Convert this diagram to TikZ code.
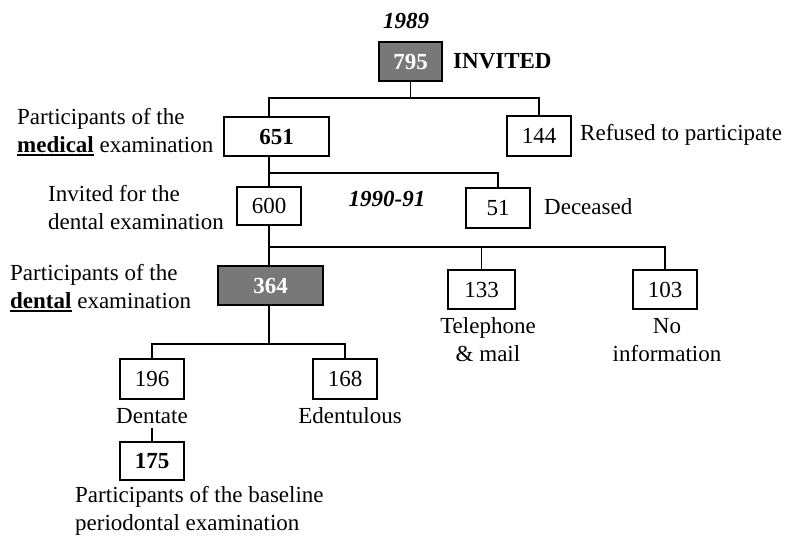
\documentclass[tikz,border=0pt]{standalone}
\usepackage{fontspec}
\setmainfont{Liberation Serif}
\definecolor{boxgray}{RGB}{120,120,120}
\newcommand\ulbf[1]{\setbox0\hbox{\textbf{#1}}\rlap{\rule[-3.5pt]{\wd0}{1.6pt}}\box0\relax}
\begin{document}
\begin{tikzpicture}[x=1pt,y=1pt,
  every node/.style={font=\fontsize{23}{28}\selectfont, inner sep=0pt},
  numbox/.style={draw, line width=1.3pt, minimum height=39pt, inner sep=0pt},
  graybox/.style={numbox, fill=boxgray, text=white, font=\fontsize{23}{28}\selectfont\bfseries},
  conn/.style={line width=1.3pt},
  lbl/.style={anchor=west, align=left}]
\useasboundingbox (0,0) rectangle (789,-536);
% boxes
\node[graybox, minimum width=63pt] (p795) at (410.5,-61.5) {795};
\node[numbox, minimum width=105pt, font=\fontsize{23}{28}\selectfont\bfseries] (p651) at (276.5,-136.5) {651};
\node[numbox, minimum width=64pt, minimum height=40pt] (p144) at (539,-136) {144};
\node[numbox, minimum width=64pt, minimum height=38pt] (p600) at (269,-206) {600};
\node[numbox, minimum width=64pt, minimum height=40pt] (p51) at (498,-208) {51};
\node[graybox, minimum width=105pt] (p364) at (270.5,-285.5) {364};
\node[numbox, minimum width=67pt] (p133) at (481.5,-289.5) {133};
\node[numbox, minimum width=64pt] (p103) at (665,-289.5) {103};
\node[numbox, minimum width=64pt, minimum height=40pt] (p196) at (152,-379) {196};
\node[numbox, minimum width=64pt, minimum height=40pt] (p168) at (345,-379) {168};
\node[numbox, minimum width=64pt, minimum height=38pt, font=\fontsize{23}{28}\selectfont\bfseries] (p175) at (152,-461) {175};
% labels
\node[font=\fontsize{23}{28}\selectfont\bfseries\itshape] (y1989) at (406,-21) {1989};
\node[lbl, font=\fontsize{23}{28}\selectfont\bfseries] (tinv) at (453,-61) {INVITED};
\node[lbl] (tref) at (580,-135) {Refused to participate};
\node[lbl] (tmed) at (17,-132) {Participants of the\\\ulbf{medical} examination};
\node[lbl] (tinvd) at (48,-208) {Invited for the\\dental examination};
\node[font=\fontsize{23}{28}\selectfont\bfseries\itshape] (y1990) at (387,-199) {1990-91};
\node[lbl] (tdec) at (544,-207) {Deceased};
\node[lbl] (tden) at (10,-288) {Participants of the\\\ulbf{dental} examination};
\node[align=center] (ttel) at (488,-340) {Telephone\\\& mail};
\node[align=center] (tno) at (667,-340) {No\\information};
\node (tdent) at (152,-416) {Dentate};
\node (tedent) at (350,-416) {Edentulous};
\node[lbl] (tbase) at (75,-511) {Participants of the baseline\\periodontal examination};
% bars
\coordinate (b1) at (0,-98);
\coordinate (b2) at (0,-173);
\coordinate (b3) at (0,-247);
\coordinate (b4) at (0,-344);
% connectors
\draw[conn] (p795.south) -- (p795.south |- b1);
\draw[conn] (p600.north |- p651.north) |- (b1 -| p144) -- (p144.north);
\draw[conn] (p600.north |- p651.south) -- (p600.north);
\draw[conn] (p600.north |- b2) -| (p51.north);
\draw[conn] (p600.south) -- (p600.south |- p364.north);
\draw[conn] (p600.south |- b3) -| (p103.north);
\draw[conn] (p133.north) -- (p133.north |- b3);
\draw[conn] (p600.south |- p364.south) -- (p600.south |- b4);
\draw[conn] (p196.north) |- (b4 -| p168) -- (p168.north);
\draw[conn] (tdent.south -| p175) ++(0,-4) -- (p175.north);
\end{tikzpicture}
\end{document}
